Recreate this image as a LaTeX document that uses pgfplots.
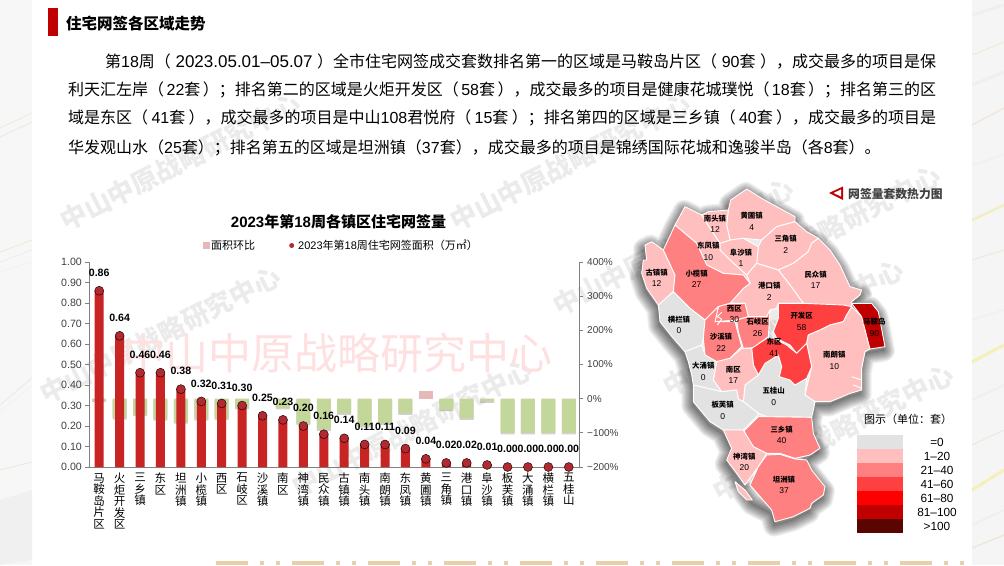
\documentclass[border=0pt]{standalone}
\usepackage{pgfplots}
\pgfplotsset{compat=1.18}
\usepackage{pgfplotstable}
\usepackage{fontspec}
\setmainfont{Liberation Sans}
\newfontfamily\cjk{Noto Sans CJK SC}
\newcommand\z[1]{{\cjk #1}}
\newcommand\s{\hskip 0pt plus 1fil\relax}
\definecolor{redbar}{HTML}{C82423}
\definecolor{reddot}{HTML}{B22A30}
\definecolor{greenbar}{HTML}{C4D79B}
\definecolor{pinkbar}{HTML}{E6B9B8}
\definecolor{axgray}{HTML}{808080}
\definecolor{c0}{HTML}{E2E2E2}
\definecolor{c1}{HTML}{FFBFBF}
\definecolor{c2}{HTML}{FF8080}
\definecolor{c3}{HTML}{FF4040}
\definecolor{c4}{HTML}{FF0000}
\definecolor{c5}{HTML}{C00000}
\definecolor{c6}{HTML}{5A0500}
\definecolor{tan}{HTML}{E8CFA7}
\pgfplotstableread{
x y
0 0.86
1 0.64
2 0.46
3 0.46
4 0.38
5 0.32
6 0.31
7 0.30
8 0.25
9 0.23
10 0.20
11 0.16
12 0.14
13 0.11
14 0.11
15 0.09
16 0.04
17 0.02
18 0.02
19 0.01
20 0.00
21 0.00
22 0.00
23 0.00
}\areatable
\pgfplotstableread{
x y
0 -6
1 -57
2 -47
3 -60
4 -69
5 -60
6 -58
7 -27
9 -27
10 -73
11 -90
12 -43
13 -80
14 -73
15 -43
17 -32
18 -58
19 -8
20 -100
21 -100
22 -100
23 -100
}\changeneg
\pgfplotstableread{
x y
16 23
}\changepos
\pgfplotstableread{
x y
165 95
215 120
235 110
295 105
302 75
350 42
395 70
440 95
495 125
495 140
530 170
565 190
600 225
630 270
660 335
695 345
690 360
665 380
725 385
745 410
765 515
720 522
705 530
695 580
695 645
660 655
600 680
555 680
550 705
545 727
550 775
570 820
540 840
530 855
545 885
585 935
580 960
545 985
540 1000
490 1025
435 1040
425 1005
367 975
345 945
320 895
290 855
305 820
280 765
240 740
190 680
190 630
175 560
165 530
130 490
90 440
85 390
50 340
35 295
40 255
50 255
45 210
65 200
100 225
135 150
}\outlinetable
\begin{document}
\begin{tikzpicture}[x=1pt,y=-1pt]
\useasboundingbox (0,0) rectangle (1004,565);
% page background
\fill[white] (0,0) rectangle (1004,565);
\fill[black!3] (0,0) rectangle (32,565);
\fill[black!4] (972,0) rectangle (1004,565);
\foreach \a/\b/\c in {128/113/tan,137/122/black!18,252/240/tan,262/250/black!14,272/262/black!8,405/378/tan,412/385/black!8,470/462/tan}
  \draw[\c,line width=.9pt,opacity=.35] (0,\a) -- (32,\b);
\fill[black!6] (0,500) -- (32,490) -- (32,560) -- (0,565) -- cycle;
\foreach \a/\b/\c/\w in {15/5/black!10/3,55/42/tan/1,85/72/black!10/3,125/108/tan/1.5,165/155/black!8/2,220/205/yellow!40!tan/2.5,260/250/tan/1,320/310/black!8/2,362/345/yellow!60!tan/3,400/385/black!10/2,445/430/tan/1,490/470/yellow!60!tan/3,525/510/black!10/2,548/535/tan/1.5}
  \draw[\c,line width=\w pt,opacity=.35] (972,\a) -- (1004,\b);
% bottom strip
\foreach \k in {0,...,9}{
  \fill[tan] ({216+76*\k},561) rectangle ({248+76*\k},565);
  \fill[tan] ({260+76*\k},561) rectangle ({264+76*\k},565);
  \fill[tan] ({276+76*\k},561) rectangle ({280+76*\k},565);
}
% watermarks
\foreach \x/\y in {180/162,160/335,412/428,570/162,673/247,833/433,820/234,783/328}
  \node[rotate=27,text=black!8,font=\cjk\bfseries\fontsize{26.5}{27}\selectfont,inner sep=0pt] at (\x,\y) {中山中原战略研究中心};
\node[text=red!12,font=\cjk\fontsize{43}{43}\selectfont,inner sep=0pt] at (337,353) {中山中原战略研究中心};
% heading
\fill[c5] (48,8) rectangle (58,36);
\node[anchor=west,inner sep=0pt,font=\cjk\bfseries\fontsize{15.5}{16}\selectfont] at (66,24) {住宅网签各区域走势};
% body
\tikzset{bodyline/.style={anchor=west,inner sep=0pt,font=\fontsize{16}{20}\selectfont}}
\node[bodyline] at (105,62) {\hbox to 831pt{\z{第}18\z{周（}\s{\fontsize{17}{20}\selectfont 2023.05.01–05.07}\s\z{）全市住宅网签成交套数排名第一的区域是马鞍岛片区（}\s 90\z{套}\s\z{），成交最多的项目是保}}};
\node[bodyline] at (68,90) {\hbox to 868pt{\z{利天汇左岸（}\s 22\z{套}\s\z{）；排名第二的区域是火炬开发区（}\s 58\z{套}\s\z{），成交最多的项目是健康花城璞悦（}\s 18\z{套}\s\z{）；排名第三的区}}};
\node[bodyline] at (68,118) {\hbox to 868pt{\z{域是东区（}\s 41\z{套}\s\z{），成交最多的项目是中山}108\z{君悦府（}\s 15\z{套}\s\z{）；排名第四的区域是三乡镇（}\s 40\z{套}\s\z{），成交最多的项目是}}};
\node[bodyline] at (68,148) {\hbox to 809pt{\z{华发观山水（}\s 25\z{套}\s\z{）；排名第五的区域是坦洲镇（}\s 37\z{套}\s\z{），成交最多的项目是锦绣国际花城和逸骏半岛（}\s\z{各}8\z{套}\s\z{）。}}};
% chart title and legend
\node[inner sep=0pt,font=\bfseries\fontsize{15}{16}\selectfont] at (338.5,222) {2023\z{年第}18\z{周各镇区住宅网签量}};
\fill[pinkbar] (203,242) rectangle (210,249);
\node[anchor=west,inner sep=0pt,font=\cjk\fontsize{11}{12}\selectfont] at (211,245.5) {面积环比};
\fill[reddot] (291.7,245.5) circle (2.5);
\node[anchor=west,inner sep=0pt,font=\fontsize{11}{12}\selectfont] at (298,245.5) {2023\z{年第}18\z{周住宅网签面积（万㎡）}};
% right axis: change
\begin{axis}[
  at={(89pt,-467pt)},anchor=south west,
  scale only axis,width=490pt,height=205pt,
  xmin=-0.5,xmax=23.5,ymin=-200,ymax=400,
  axis y line*=right,axis x line=none,
  axis line style={axgray,line width=.9pt},
  ytick={-200,-100,0,100,200,300,400},
  yticklabels={−200\%,−100\%,0\%,100\%,200\%,300\%,400\%},
  tick align=outside,major tick length=4pt,
  ytick style={axgray,line width=.8pt},
  yticklabel style={font=\fontsize{10}{12}\selectfont,text=black!75,inner sep=0pt,xshift=4pt},
  clip=false]
\addplot[ybar,bar width=14pt,bar shift=0pt,fill=black,draw=none,opacity=.18,yshift=-1.5pt] table[x=x,y=y] {\changeneg};
\addplot[ybar,bar width=14pt,bar shift=0pt,fill=greenbar,draw=none] table[x=x,y=y] {\changeneg};
\addplot[ybar,bar width=14pt,bar shift=0pt,fill=pinkbar,draw=none] table[x=x,y=y] {\changepos};
\end{axis}
% left axis: area
\begin{axis}[
  at={(89pt,-467pt)},anchor=south west,
  scale only axis,width=490pt,height=205pt,
  xmin=-0.5,xmax=23.5,ymin=0,ymax=1,
  axis y line*=left,axis x line*=bottom,
  axis line style={axgray,line width=.9pt},
  ytick={0,0.1,...,1.01},
  yticklabel style={font=\fontsize{10.6}{12}\selectfont,text=black!75,inner sep=0pt,xshift=-3pt,
    /pgf/number format/.cd,fixed,fixed zerofill,precision=2,assume math mode=true},
  tick align=outside,major tick length=4pt,
  ytick style={axgray,line width=.8pt},
  xtick={0,...,23},
  xtick style={draw=none},
  xticklabels={{马\\鞍\\岛\\片\\区},{火\\炬\\开\\发\\区},{三\\乡\\镇},{东\\区},{坦\\洲\\镇},{小\\榄\\镇},{西\\区},{石\\岐\\区},{沙\\溪\\镇},{南\\区},{神\\湾\\镇},{民\\众\\镇},{古\\镇\\镇},{南\\头\\镇},{南\\朗\\镇},{东\\凤\\镇},{黄\\圃\\镇},{三\\角\\镇},{港\\口\\镇},{阜\\沙\\镇},{板\\芙\\镇},{大\\涌\\镇},{横\\栏\\镇},{五\\桂\\山}},
  xticklabel style={align=center,font=\cjk\fontsize{11.5}{11.5}\selectfont,inner sep=0pt,anchor=north,yshift=-2pt},
  clip=false]
\addplot[ybar,bar width=9pt,bar shift=0pt,fill=redbar,draw=none] table[x=x,y=y] {\areatable};
\addplot[only marks,mark=*,mark size=4.5pt,mark options={fill=reddot,draw=none},
  nodes near coords,
  nodes near coords style={font=\bfseries\fontsize{10.6}{12}\selectfont,anchor=center,yshift=18pt,inner sep=0pt,
    /pgf/number format/.cd,fixed,fixed zerofill,precision=2,assume math mode=true}]
  table[x=x,y=y] {\areatable};
\end{axis}
% heat map title
\fill[c5] (829,193) -- (843,186.5) -- (843,200) -- cycle;
\fill[white] (833.5,193) -- (841,189.5) -- (841,196.5) -- cycle;
\node[anchor=west,inner sep=0pt,text=black!75,font=\cjk\bfseries\fontsize{11.8}{12}\selectfont] at (848,194) {网签量套数热力图};
% legend of map
\node[inner sep=0pt,font=\cjk\fontsize{11}{12}\selectfont] at (908,419) {图示（单位：套）};
\foreach \i/\c/\t in {0/c0/=0,1/c1/1–20,2/c2/21–40,3/c3/41–60,4/c4/61–80,5/c5/81–100,6/c6/>100}{
  \fill[\c] (857,{435+14*\i}) rectangle (903,{449+14*\i});
  \node[inner sep=0pt,font=\fontsize{11.8}{12}\selectfont] at (937,{442+14*\i}) {\t};
}
% map, coordinates of the map axis
\begin{axis}[
  at={(630pt,-565pt)},anchor=south west,
  scale only axis,width=330pt,height=390pt,
  xmin=0,xmax=990,ymin=0,ymax=1170,y dir=reverse,
  hide axis,clip=false,
  mapreg/.style={draw=white,line width=.9pt,line join=round}]
\addplot[fill=black,draw=none,opacity=.08,yshift=-4pt,xshift=-1pt] table[x=x,y=y] {\outlinetable} -- cycle;
\pgfplotsinvokeforeach{2,4,6,8,10,12,14,16,18,20,22}{
  \addplot[draw=black,line width=#1pt,line join=round,opacity=.055,yshift=-4pt,xshift=-1pt] table[x=x,y=y] {\outlinetable} -- cycle;
}
\addplot[fill=c1,mapreg] coordinates {(295,105)(302,75)(350,42)(395,70)(440,95)(495,125)(495,140)(440,155)(395,195)(340,190)(300,195)(290,150)} -- cycle;
\addplot[fill=c1,mapreg] coordinates {(395,195)(440,155)(495,140)(530,170)(565,190)(545,205)(535,230)(490,265)(445,285)(380,265)(385,215)} -- cycle;
\addplot[fill=c1,mapreg] coordinates {(565,190)(600,225)(630,270)(660,335)(695,345)(690,360)(665,380)(665,395)(520,385)(480,330)(445,285)(490,265)(535,230)(545,205)} -- cycle;
\addplot[fill=c1,mapreg] coordinates {(270,205)(300,195)(340,190)(385,215)(380,265)(350,300)(305,260)(270,225)} -- cycle;
\addplot[fill=c1,mapreg] coordinates {(380,265)(445,285)(480,330)(520,385)(445,385)(440,400)(420,405)(410,425)(355,425)(345,385)(300,385)(340,340)(360,325)(350,300)} -- cycle;
\addplot[fill=c1,mapreg] coordinates {(215,120)(235,110)(295,105)(290,150)(300,195)(270,205)(240,160)} -- cycle;
\addplot[fill=c1,mapreg] coordinates {(135,150)(165,95)(215,120)(240,160)(270,205)(270,225)(305,260)(350,300)(360,325)(340,300)(280,295)(230,270)(200,205)} -- cycle;
\addplot[fill=c1,mapreg] coordinates {(45,210)(65,200)(100,225)(135,300)(130,350)(85,390)(50,340)(35,295)(40,255)(50,255)} -- cycle;
\addplot[fill=c2,mapreg] coordinates {(100,225)(135,150)(200,205)(230,270)(280,295)(340,300)(360,325)(340,340)(300,385)(265,395)(225,435)(180,400)(130,350)(135,300)} -- cycle;
\addplot[fill=c0,mapreg] coordinates {(85,390)(130,350)(180,400)(225,435)(220,490)(215,510)(165,530)(130,490)(90,440)} -- cycle;
\addplot[fill=c2,mapreg] coordinates {(265,395)(300,385)(345,385)(355,425)(320,435)(255,440)} -- cycle;
\addplot[fill=c2,mapreg] coordinates {(225,435)(265,395)(255,440)(315,440)(335,515)(300,550)(260,560)(225,540)(220,490)} -- cycle;
\addplot[fill=c2,mapreg] coordinates {(320,435)(355,425)(410,425)(420,405)(415,485)(370,518)(340,520)(325,470)} -- cycle;
\addplot[draw=white,line width=.9pt] coordinates {(275,412)(262,425)(275,432)(262,450)};
\addplot[fill=c3,mapreg] coordinates {(445,385)(520,385)(640,390)(665,395)(650,420)(640,440)(600,450)(570,465)(535,480)(530,505)(500,535)(480,510)(440,490)(430,470)(445,430)} -- cycle;
\addplot[fill=c1,mapreg] coordinates {(650,420)(665,395)(695,425)(720,522)(705,530)(695,580)(695,645)(660,655)(625,670)(600,680)(555,680)(525,660)(545,575)(530,505)(535,480)(570,465)(600,450)(640,440)} -- cycle;
\addplot[draw=white,line width=.9pt] coordinates {(665,605)(695,615)};
\addplot[draw=white,line width=.9pt] coordinates {(670,630)(695,640)};
\addplot[fill=c5,mapreg] coordinates {(665,385)(725,385)(745,410)(765,515)(720,522)(695,425)} -- cycle;
\addplot[fill=c0,mapreg] coordinates {(405,565)(445,540)(455,575)(448,605)(480,615)(495,630)(530,610)(525,660)(555,680)(550,705)(545,727)(410,725)(385,715)(340,680)(345,630)(385,600)} -- cycle;
\addplot[fill=c3,mapreg] coordinates {(365,520)(410,490)(430,490)(470,510)(500,535)(530,505)(545,575)(530,610)(495,630)(480,615)(448,605)(455,575)(445,540)(405,565)(385,600)(370,570)} -- cycle;
\addplot[fill=c1,mapreg] coordinates {(260,560)(300,550)(335,520)(365,520)(370,570)(385,600)(345,630)(340,680)(325,672)(320,645)(275,650)(250,615)(255,585)} -- cycle;
\addplot[fill=c0,mapreg] coordinates {(165,530)(215,510)(225,540)(260,560)(250,615)(275,650)(190,630)(185,600)(175,560)} -- cycle;
\addplot[fill=c0,mapreg] coordinates {(190,630)(275,650)(320,645)(325,672)(340,680)(385,715)(380,725)(340,765)(280,765)(240,740)(190,680)} -- cycle;
\addplot[fill=c2,mapreg] coordinates {(340,770)(385,725)(410,725)(545,727)(550,775)(570,820)(540,840)(495,850)(450,835)(410,835)(370,815)} -- cycle;
\addplot[fill=c1,mapreg] coordinates {(280,765)(340,765)(370,815)(410,835)(385,875)(345,930)(320,895)(290,855)(305,820)} -- cycle;
\addplot[fill=c1,mapreg] coordinates {(315,920)(345,945)(367,975)(350,975)(325,950)} -- cycle;
\addplot[fill=c2,mapreg] coordinates {(410,840)(450,838)(495,852)(530,855)(545,885)(585,935)(580,960)(545,985)(540,1000)(490,1025)(435,1040)(425,1005)(360,930)(385,875)} -- cycle;
% names and numbers
\pgfplotsinvokeforeach{
 {255/130/南头镇/165/12},{365/122/黄圃镇/157/4},{467/192/三角镇/227/2},{235/212/东凤镇/247/10},
 {333/232/阜沙镇/267/1},{80/292/古镇镇/327/12},{200/295/小榄镇/328/27},{557/298/民众镇/333/17},
 {418/333/港口镇/367/2},{313/400/西区/435/30},{147/433/横栏镇/467/0},{383/440/石岐区/475/26},
 {515/422/开发区/457/58},{733/440/马鞍岛/475/90},{273/485/沙溪镇/520/22},{432/500/东区/535/41},
 {613/540/南朗镇/574/10},{220/573/大涌镇/607/0},{310/583/南区/617/17},{431/647/五桂山/682/0},
 {278/690/板芙镇/725/0},{455/763/三乡镇/798/40},{343/844/神湾镇/879/20},{462/913/坦洲镇/948/37}}{
 \foreach \x/\y/\n/\yy/\v in {#1}{
  \edef\tmp{\noexpand\node[inner sep=0pt,font=\noexpand\cjk\noexpand\bfseries\noexpand\fontsize{7.4}{8}\noexpand\selectfont] at (axis cs:\x,\y) {\n};
   \noexpand\node[inner sep=0pt,font=\noexpand\fontsize{8.5}{9}\noexpand\selectfont] at (axis cs:\x,\yy) {\v};}
  \tmp
 }
}
\end{axis}
\end{tikzpicture}
\end{document}
